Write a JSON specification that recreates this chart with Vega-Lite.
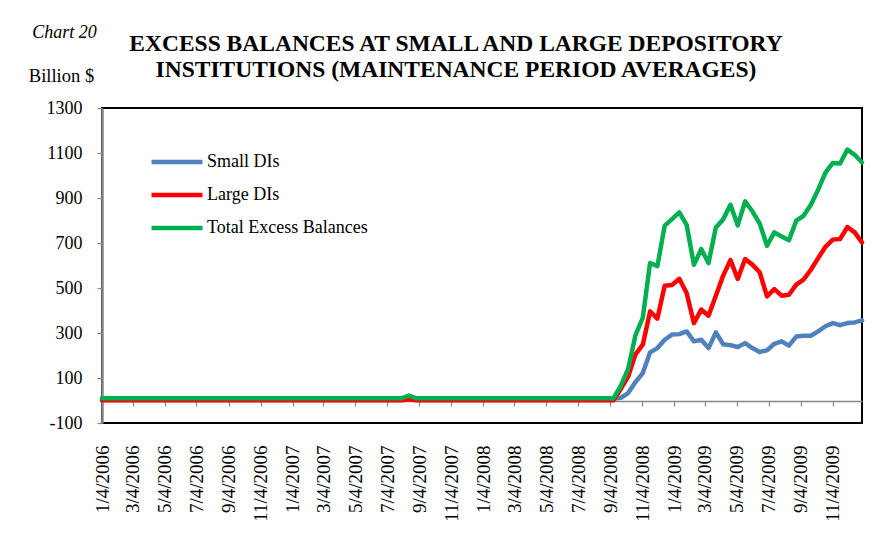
{
  "$schema": "https://vega.github.io/schema/vega-lite/v6.json",
  "width": 760,
  "height": 315,
  "autosize": {"type": "none"},
  "padding": {"left": 102, "top": 108, "right": 26, "bottom": 116},
  "background": "white",
  "title": {
    "text": ["EXCESS BALANCES AT SMALL AND LARGE DEPOSITORY", "INSTITUTIONS (MAINTENANCE PERIOD AVERAGES)"],
    "font": "Liberation Serif",
    "fontSize": 23.5,
    "fontWeight": "bold",
    "color": "#000000",
    "anchor": "middle",
    "frame": "group",
    "dx": -26,
    "offset": -58,
    "lineHeight": 26
  },
  "data": {
    "values": [
      {"d": "2006-01-04", "Small DIs": 9, "Large DIs": 1, "Total Excess Balances": 10},
      {"d": "2006-01-18", "Small DIs": 9, "Large DIs": 1, "Total Excess Balances": 10},
      {"d": "2006-02-01", "Small DIs": 9, "Large DIs": 1, "Total Excess Balances": 10},
      {"d": "2006-02-15", "Small DIs": 9, "Large DIs": 1, "Total Excess Balances": 10},
      {"d": "2006-03-01", "Small DIs": 9, "Large DIs": 1, "Total Excess Balances": 10},
      {"d": "2006-03-15", "Small DIs": 9, "Large DIs": 1, "Total Excess Balances": 10},
      {"d": "2006-03-29", "Small DIs": 9, "Large DIs": 1, "Total Excess Balances": 10},
      {"d": "2006-04-12", "Small DIs": 9, "Large DIs": 1, "Total Excess Balances": 10},
      {"d": "2006-04-26", "Small DIs": 9, "Large DIs": 1, "Total Excess Balances": 10},
      {"d": "2006-05-10", "Small DIs": 9, "Large DIs": 1, "Total Excess Balances": 10},
      {"d": "2006-05-24", "Small DIs": 9, "Large DIs": 1, "Total Excess Balances": 10},
      {"d": "2006-06-07", "Small DIs": 9, "Large DIs": 1, "Total Excess Balances": 10},
      {"d": "2006-06-21", "Small DIs": 9, "Large DIs": 1, "Total Excess Balances": 10},
      {"d": "2006-07-05", "Small DIs": 9, "Large DIs": 1, "Total Excess Balances": 10},
      {"d": "2006-07-19", "Small DIs": 9, "Large DIs": 1, "Total Excess Balances": 10},
      {"d": "2006-08-02", "Small DIs": 9, "Large DIs": 1, "Total Excess Balances": 10},
      {"d": "2006-08-16", "Small DIs": 9, "Large DIs": 1, "Total Excess Balances": 10},
      {"d": "2006-08-30", "Small DIs": 9, "Large DIs": 1, "Total Excess Balances": 10},
      {"d": "2006-09-13", "Small DIs": 9, "Large DIs": 1, "Total Excess Balances": 10},
      {"d": "2006-09-27", "Small DIs": 9, "Large DIs": 1, "Total Excess Balances": 10},
      {"d": "2006-10-11", "Small DIs": 9, "Large DIs": 1, "Total Excess Balances": 10},
      {"d": "2006-10-25", "Small DIs": 9, "Large DIs": 1, "Total Excess Balances": 10},
      {"d": "2006-11-08", "Small DIs": 9, "Large DIs": 1, "Total Excess Balances": 10},
      {"d": "2006-11-22", "Small DIs": 9, "Large DIs": 1, "Total Excess Balances": 10},
      {"d": "2006-12-06", "Small DIs": 9, "Large DIs": 1, "Total Excess Balances": 10},
      {"d": "2006-12-20", "Small DIs": 9, "Large DIs": 1, "Total Excess Balances": 10},
      {"d": "2007-01-03", "Small DIs": 9, "Large DIs": 1, "Total Excess Balances": 10},
      {"d": "2007-01-17", "Small DIs": 9, "Large DIs": 1, "Total Excess Balances": 10},
      {"d": "2007-01-31", "Small DIs": 9, "Large DIs": 1, "Total Excess Balances": 10},
      {"d": "2007-02-14", "Small DIs": 9, "Large DIs": 1, "Total Excess Balances": 10},
      {"d": "2007-02-28", "Small DIs": 9, "Large DIs": 1, "Total Excess Balances": 10},
      {"d": "2007-03-14", "Small DIs": 9, "Large DIs": 1, "Total Excess Balances": 10},
      {"d": "2007-03-28", "Small DIs": 9, "Large DIs": 1, "Total Excess Balances": 10},
      {"d": "2007-04-11", "Small DIs": 9, "Large DIs": 1, "Total Excess Balances": 10},
      {"d": "2007-04-25", "Small DIs": 9, "Large DIs": 1, "Total Excess Balances": 10},
      {"d": "2007-05-09", "Small DIs": 9, "Large DIs": 1, "Total Excess Balances": 10},
      {"d": "2007-05-23", "Small DIs": 9, "Large DIs": 1, "Total Excess Balances": 10},
      {"d": "2007-06-06", "Small DIs": 9, "Large DIs": 1, "Total Excess Balances": 10},
      {"d": "2007-06-20", "Small DIs": 9, "Large DIs": 1, "Total Excess Balances": 10},
      {"d": "2007-07-04", "Small DIs": 9, "Large DIs": 1, "Total Excess Balances": 10},
      {"d": "2007-07-18", "Small DIs": 9, "Large DIs": 1, "Total Excess Balances": 10},
      {"d": "2007-08-01", "Small DIs": 9, "Large DIs": 1, "Total Excess Balances": 10},
      {"d": "2007-08-15", "Small DIs": 17, "Large DIs": 5, "Total Excess Balances": 22},
      {"d": "2007-08-29", "Small DIs": 9, "Large DIs": 1, "Total Excess Balances": 10},
      {"d": "2007-09-12", "Small DIs": 9, "Large DIs": 1, "Total Excess Balances": 10},
      {"d": "2007-09-26", "Small DIs": 9, "Large DIs": 1, "Total Excess Balances": 10},
      {"d": "2007-10-10", "Small DIs": 9, "Large DIs": 1, "Total Excess Balances": 10},
      {"d": "2007-10-24", "Small DIs": 9, "Large DIs": 1, "Total Excess Balances": 10},
      {"d": "2007-11-07", "Small DIs": 9, "Large DIs": 1, "Total Excess Balances": 10},
      {"d": "2007-11-21", "Small DIs": 9, "Large DIs": 1, "Total Excess Balances": 10},
      {"d": "2007-12-05", "Small DIs": 9, "Large DIs": 1, "Total Excess Balances": 10},
      {"d": "2007-12-19", "Small DIs": 9, "Large DIs": 1, "Total Excess Balances": 10},
      {"d": "2008-01-02", "Small DIs": 9, "Large DIs": 1, "Total Excess Balances": 10},
      {"d": "2008-01-16", "Small DIs": 9, "Large DIs": 1, "Total Excess Balances": 10},
      {"d": "2008-01-30", "Small DIs": 9, "Large DIs": 1, "Total Excess Balances": 10},
      {"d": "2008-02-13", "Small DIs": 9, "Large DIs": 1, "Total Excess Balances": 10},
      {"d": "2008-02-27", "Small DIs": 9, "Large DIs": 1, "Total Excess Balances": 10},
      {"d": "2008-03-12", "Small DIs": 9, "Large DIs": 1, "Total Excess Balances": 10},
      {"d": "2008-03-26", "Small DIs": 9, "Large DIs": 1, "Total Excess Balances": 10},
      {"d": "2008-04-09", "Small DIs": 9, "Large DIs": 1, "Total Excess Balances": 10},
      {"d": "2008-04-23", "Small DIs": 9, "Large DIs": 1, "Total Excess Balances": 10},
      {"d": "2008-05-07", "Small DIs": 9, "Large DIs": 1, "Total Excess Balances": 10},
      {"d": "2008-05-21", "Small DIs": 9, "Large DIs": 1, "Total Excess Balances": 10},
      {"d": "2008-06-04", "Small DIs": 9, "Large DIs": 1, "Total Excess Balances": 10},
      {"d": "2008-06-18", "Small DIs": 9, "Large DIs": 1, "Total Excess Balances": 10},
      {"d": "2008-07-02", "Small DIs": 9, "Large DIs": 1, "Total Excess Balances": 10},
      {"d": "2008-07-16", "Small DIs": 9, "Large DIs": 1, "Total Excess Balances": 10},
      {"d": "2008-07-30", "Small DIs": 9, "Large DIs": 1, "Total Excess Balances": 10},
      {"d": "2008-08-13", "Small DIs": 9, "Large DIs": 1, "Total Excess Balances": 10},
      {"d": "2008-08-27", "Small DIs": 9, "Large DIs": 1, "Total Excess Balances": 10},
      {"d": "2008-09-10", "Small DIs": 9, "Large DIs": 1, "Total Excess Balances": 10},
      {"d": "2008-09-24", "Small DIs": 12, "Large DIs": 52, "Total Excess Balances": 66},
      {"d": "2008-10-08", "Small DIs": 33, "Large DIs": 107, "Total Excess Balances": 140},
      {"d": "2008-10-22", "Small DIs": 82, "Large DIs": 205, "Total Excess Balances": 290},
      {"d": "2008-11-05", "Small DIs": 122, "Large DIs": 248, "Total Excess Balances": 367},
      {"d": "2008-11-19", "Small DIs": 214, "Large DIs": 396, "Total Excess Balances": 611},
      {"d": "2008-12-03", "Small DIs": 233, "Large DIs": 364, "Total Excess Balances": 597},
      {"d": "2008-12-17", "Small DIs": 270, "Large DIs": 510, "Total Excess Balances": 777},
      {"d": "2008-12-31", "Small DIs": 293, "Large DIs": 513, "Total Excess Balances": 806},
      {"d": "2009-01-14", "Small DIs": 295, "Large DIs": 541, "Total Excess Balances": 836},
      {"d": "2009-01-28", "Small DIs": 307, "Large DIs": 478, "Total Excess Balances": 781},
      {"d": "2009-02-11", "Small DIs": 263, "Large DIs": 344, "Total Excess Balances": 603},
      {"d": "2009-02-25", "Small DIs": 270, "Large DIs": 404, "Total Excess Balances": 673},
      {"d": "2009-03-11", "Small DIs": 233, "Large DIs": 377, "Total Excess Balances": 611},
      {"d": "2009-03-25", "Small DIs": 303, "Large DIs": 466, "Total Excess Balances": 769},
      {"d": "2009-04-08", "Small DIs": 250, "Large DIs": 555, "Total Excess Balances": 805},
      {"d": "2009-04-22", "Small DIs": 246, "Large DIs": 624, "Total Excess Balances": 870},
      {"d": "2009-05-06", "Small DIs": 238, "Large DIs": 540, "Total Excess Balances": 778},
      {"d": "2009-05-20", "Small DIs": 255, "Large DIs": 629, "Total Excess Balances": 885},
      {"d": "2009-06-03", "Small DIs": 233, "Large DIs": 604, "Total Excess Balances": 841},
      {"d": "2009-06-17", "Small DIs": 216, "Large DIs": 570, "Total Excess Balances": 786},
      {"d": "2009-07-01", "Small DIs": 223, "Large DIs": 463, "Total Excess Balances": 688},
      {"d": "2009-07-15", "Small DIs": 252, "Large DIs": 495, "Total Excess Balances": 747},
      {"d": "2009-07-29", "Small DIs": 263, "Large DIs": 466, "Total Excess Balances": 729},
      {"d": "2009-08-12", "Small DIs": 244, "Large DIs": 470, "Total Excess Balances": 712},
      {"d": "2009-08-26", "Small DIs": 284, "Large DIs": 515, "Total Excess Balances": 799},
      {"d": "2009-09-09", "Small DIs": 288, "Large DIs": 537, "Total Excess Balances": 821},
      {"d": "2009-09-23", "Small DIs": 288, "Large DIs": 581, "Total Excess Balances": 870},
      {"d": "2009-10-07", "Small DIs": 307, "Large DIs": 633, "Total Excess Balances": 937},
      {"d": "2009-10-21", "Small DIs": 330, "Large DIs": 683, "Total Excess Balances": 1013},
      {"d": "2009-11-04", "Small DIs": 344, "Large DIs": 715, "Total Excess Balances": 1056},
      {"d": "2009-11-18", "Small DIs": 335, "Large DIs": 718, "Total Excess Balances": 1053},
      {"d": "2009-12-02", "Small DIs": 344, "Large DIs": 771, "Total Excess Balances": 1115},
      {"d": "2009-12-16", "Small DIs": 347, "Large DIs": 747, "Total Excess Balances": 1092},
      {"d": "2009-12-30", "Small DIs": 356, "Large DIs": 703, "Total Excess Balances": 1058}
    ]
  },
  "transform": [
    {"fold": ["Small DIs", "Large DIs", "Total Excess Balances"], "as": ["series", "value"]}
  ],
  "mark": {"type": "line", "strokeWidth": 4.5, "strokeJoin": "round", "strokeCap": "round"},
  "encoding": {
    "x": {
      "field": "d",
      "type": "temporal",
      "scale": {
        "type": "utc",
        "domain": [
          {"year": 2006, "month": 1, "date": 4, "utc": true},
          {"year": 2009, "month": 12, "date": 30, "utc": true}
        ]
      },
      "axis": {
        "values": [
          {"year": 2006, "month": 1, "date": 4, "utc": true},
          {"year": 2006, "month": 3, "date": 4, "utc": true},
          {"year": 2006, "month": 5, "date": 4, "utc": true},
          {"year": 2006, "month": 7, "date": 4, "utc": true},
          {"year": 2006, "month": 9, "date": 4, "utc": true},
          {"year": 2006, "month": 11, "date": 4, "utc": true},
          {"year": 2007, "month": 1, "date": 4, "utc": true},
          {"year": 2007, "month": 3, "date": 4, "utc": true},
          {"year": 2007, "month": 5, "date": 4, "utc": true},
          {"year": 2007, "month": 7, "date": 4, "utc": true},
          {"year": 2007, "month": 9, "date": 4, "utc": true},
          {"year": 2007, "month": 11, "date": 4, "utc": true},
          {"year": 2008, "month": 1, "date": 4, "utc": true},
          {"year": 2008, "month": 3, "date": 4, "utc": true},
          {"year": 2008, "month": 5, "date": 4, "utc": true},
          {"year": 2008, "month": 7, "date": 4, "utc": true},
          {"year": 2008, "month": 9, "date": 4, "utc": true},
          {"year": 2008, "month": 11, "date": 4, "utc": true},
          {"year": 2009, "month": 1, "date": 4, "utc": true},
          {"year": 2009, "month": 3, "date": 4, "utc": true},
          {"year": 2009, "month": 5, "date": 4, "utc": true},
          {"year": 2009, "month": 7, "date": 4, "utc": true},
          {"year": 2009, "month": 9, "date": 4, "utc": true},
          {"year": 2009, "month": 11, "date": 4, "utc": true}
        ],
        "format": "%-m/%-d/%Y",
        "labelAngle": -90,
        "labelFont": "Liberation Serif",
        "labelFontSize": 19,
        "labelColor": "#000000",
        "labelPadding": 39,
        "labelOverlap": false,
        "labelBound": false,
        "labelFlush": false,
        "tickSize": 5,
        "tickColor": "#868686",
        "tickWidth": 1.2,
        "domainColor": "#868686",
        "domainWidth": 1.5,
        "offset": -22,
        "grid": false,
        "title": "Chart 20",
        "titleFont": "Liberation Serif",
        "titleFontSize": 18,
        "titleFontStyle": "italic",
        "titleFontWeight": "normal",
        "titleColor": "#000000",
        "titleX": -38,
        "titleY": -369,
        "titleAlign": "center",
        "titleBaseline": "middle",
        "titleAngle": 0
      }
    },
    "y": {
      "field": "value",
      "type": "quantitative",
      "scale": {"domain": [-100, 1300], "nice": false, "zero": false},
      "axis": {
        "values": [-100, 100, 300, 500, 700, 900, 1100, 1300],
        "labelExpr": "'' + datum.value",
        "labelFont": "Liberation Serif",
        "labelFontSize": 18,
        "labelColor": "#000000",
        "labelPadding": 15,
        "tickSize": 5,
        "tickColor": "#868686",
        "tickWidth": 1.2,
        "domainColor": "#868686",
        "domainWidth": 2.5,
        "grid": false,
        "title": "Billion $",
        "titleAngle": 0,
        "titleX": -41,
        "titleY": -33,
        "titleAlign": "center",
        "titleBaseline": "middle",
        "titleFont": "Liberation Serif",
        "titleFontSize": 18.5,
        "titleFontWeight": "normal",
        "titleColor": "#000000"
      }
    },
    "color": {
      "field": "series",
      "type": "nominal",
      "scale": {
        "domain": ["Small DIs", "Large DIs", "Total Excess Balances"],
        "range": ["#4F81BD", "#FF0000", "#00B050"]
      },
      "legend": {
        "orient": "none",
        "legendX": 64,
        "legendY": 43,
        "title": null,
        "symbolType": "M-3,0H3",
        "symbolSize": 289,
        "symbolStrokeWidth": 4.5,
        "labelFont": "Liberation Serif",
        "labelFontSize": 18,
        "labelColor": "#000000",
        "labelOffset": 19,
        "labelLimit": 400,
        "rowPadding": 13,
        "padding": 0
      }
    }
  },
  "config": {
    "view": {"stroke": "#000000", "strokeWidth": 2}
  }
}
